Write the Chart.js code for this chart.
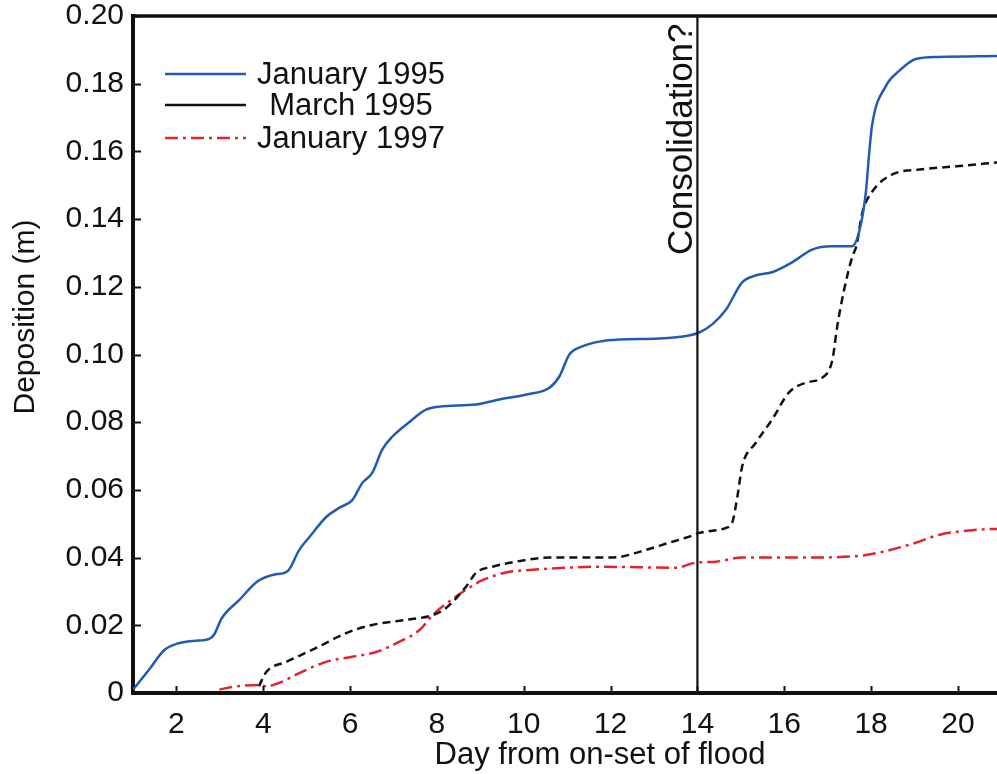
<!DOCTYPE html>
<html>
<head>
<meta charset="utf-8">
<script src="https://cdn.jsdelivr.net/npm/chart.js@4.4.1/dist/chart.umd.min.js"></script>
<style>
  html, body { margin: 0; padding: 0; background: #fff; overflow: hidden; }
  #wrap { width: 997px; height: 774px; }
</style>
</head>
<body>
<div id="wrap"><canvas id="myChart"></canvas></div>
<script>
// days since start of flood / deposition in metres
const jan95Days  = [1.0, 1.4, 1.72, 2.0, 2.4, 2.76, 2.88, 3.04, 3.45, 3.87, 4.26, 4.56, 4.83, 5.06, 5.45, 5.75, 6.05, 6.28, 6.51, 6.74, 6.97, 7.36, 7.75, 8.06, 8.9, 9.44, 10.06, 10.59, 10.82, 11.05, 11.35, 11.74, 12.2, 13.12, 13.8, 14.04, 14.34, 14.66, 15.03, 15.35, 15.72, 16.18, 16.64, 17.1, 17.56, 17.72, 17.88, 17.95, 18.02, 18.34, 18.64, 19.03, 19.56, 20.95];
const jan95Depth = [0.001, 0.0074, 0.0127, 0.0145, 0.0154, 0.016, 0.0175, 0.022, 0.0275, 0.033, 0.035, 0.036, 0.0423, 0.046, 0.052, 0.0547, 0.057, 0.062, 0.065, 0.0719, 0.0757, 0.080, 0.0837, 0.0846, 0.0852, 0.0867, 0.0882, 0.0902, 0.0935, 0.100, 0.1024, 0.1038, 0.1044, 0.1047, 0.1056, 0.1065, 0.1089, 0.1133, 0.1213, 0.1234, 0.1243, 0.1272, 0.131, 0.132, 0.132, 0.136, 0.148, 0.1586, 0.1675, 0.1793, 0.1837, 0.1873, 0.1879, 0.1882];

const mar95Days  = [3.9, 4.07, 4.53, 5.22, 5.91, 6.51, 7.29, 7.9, 8.21, 8.67, 8.9, 9.28, 9.82, 10.58, 11.74, 12.2, 12.66, 13.35, 13.81, 14.04, 14.66, 14.8, 14.92, 15.03, 15.35, 15.72, 16.11, 16.5, 16.88, 17.11, 17.22, 17.38, 17.57, 17.66, 17.8, 18.02, 18.49, 19.18, 19.96, 20.95];
const mar95Depth = [0.002, 0.0062, 0.0092, 0.0133, 0.0177, 0.0201, 0.0216, 0.023, 0.0251, 0.0314, 0.0355, 0.0373, 0.0388, 0.040, 0.040, 0.0402, 0.0417, 0.0444, 0.0462, 0.0473, 0.0488, 0.0503, 0.058, 0.0669, 0.074, 0.0808, 0.0888, 0.0917, 0.0932, 0.0985, 0.1083, 0.1192, 0.129, 0.132, 0.142, 0.148, 0.1532, 0.1547, 0.1556, 0.1568];

const jan97Days  = [2.99, 3.29, 3.91, 4.07, 4.37, 4.83, 5.45, 6.05, 6.6, 7.13, 7.6, 7.9, 8.36, 8.67, 9.06, 9.67, 10.2, 10.98, 11.74, 13.5, 13.96, 14.43, 15.03, 16.34, 17.72, 18.26, 19.03, 19.56, 20.41, 20.95];
const jan97Depth = [0.001, 0.0018, 0.0024, 0.002, 0.003, 0.0059, 0.0092, 0.0107, 0.0121, 0.0151, 0.0186, 0.023, 0.0278, 0.0305, 0.0334, 0.0358, 0.0364, 0.037, 0.0373, 0.037, 0.0385, 0.0388, 0.040, 0.040, 0.0405, 0.0417, 0.0444, 0.0467, 0.0482, 0.0485];

const seriesNames = ['January 1995', 'March 1995', 'January 1997'];
const xTicks = [2, 4, 6, 8, 10, 12, 14, 16, 18, 20];
const yTicks = [0, 0.02, 0.04, 0.06, 0.08, 0.10, 0.12, 0.14, 0.16, 0.18, 0.20];
const consolidationDay = 14;

const toPoints = (xs, ys) => xs.map((x, i) => ({ x: x, y: ys[i] }));

const FONT = '"Liberation Sans", Arial, Helvetica, sans-serif';
const BLUE = '#1f5cb2';
const RED = '#e2242b';
const INK = '#111';

// legend swatch dash per series (the figure shows March as a solid line in its key)
const legendDash = [[], [], [13, 5, 3, 5]];

const decorations = {
    id: 'decorations',
    afterDatasetsDraw(chart) {
        const ctx = chart.ctx;
        const area = chart.chartArea;
        const xs = chart.scales.x;
        const ys = chart.scales.y;
        ctx.save();

        // top frame line
        ctx.strokeStyle = INK;
        ctx.lineWidth = 3.5;
        ctx.beginPath();
        ctx.moveTo(area.left - 2, area.top);
        ctx.lineTo(chart.width, area.top);
        ctx.stroke();

        // inward tick marks
        ctx.lineWidth = 2;
        yTicks.forEach(v => {
            const py = Math.round(ys.getPixelForValue(v)) + 0.5;
            ctx.beginPath();
            ctx.moveTo(area.left, py);
            ctx.lineTo(area.left + 8, py);
            ctx.stroke();
        });
        xTicks.forEach(v => {
            const px = Math.round(xs.getPixelForValue(v)) + 0.5;
            ctx.beginPath();
            ctx.moveTo(px, area.bottom);
            ctx.lineTo(px, area.bottom - 7);
            ctx.stroke();
        });

        // consolidation marker
        const cx = xs.getPixelForValue(consolidationDay);
        ctx.lineWidth = 2.2;
        ctx.beginPath();
        ctx.moveTo(cx, area.top);
        ctx.lineTo(cx, area.bottom);
        ctx.stroke();

        ctx.fillStyle = INK;
        ctx.save();
        ctx.translate(cx - 5, 255);
        ctx.rotate(-Math.PI / 2);
        ctx.font = '35px ' + FONT;
        ctx.textAlign = 'left';
        ctx.textBaseline = 'alphabetic';
        ctx.fillText('Consolidation?', 0, 0);
        ctx.restore();

        // axis titles
        ctx.font = '31px ' + FONT;
        ctx.textAlign = 'center';
        ctx.textBaseline = 'alphabetic';
        ctx.fillText('Day from on-set of flood', 600, 764);

        ctx.save();
        ctx.translate(34, 317);
        ctx.rotate(-Math.PI / 2);
        ctx.font = '30px ' + FONT;
        ctx.fillText('Deposition (m)', 0, 0);
        ctx.restore();

        // legend
        const rows = [74, 105, 138];
        chart.data.datasets.forEach((ds, i) => {
            ctx.strokeStyle = ds.borderColor;
            ctx.lineWidth = 2.5;
            ctx.setLineDash(legendDash[i]);
            ctx.beginPath();
            ctx.moveTo(165, rows[i]);
            ctx.lineTo(246, rows[i]);
            ctx.stroke();
            ctx.setLineDash([]);
            ctx.fillStyle = INK;
            ctx.font = '31px ' + FONT;
            ctx.textAlign = 'center';
            ctx.textBaseline = 'middle';
            ctx.fillText(ds.label, 351, rows[i] + 1);
        });

        ctx.restore();
    }
};

const ctx = document.getElementById('myChart').getContext('2d');
new Chart(ctx, {
    type: 'line',
    data: {
        datasets: [
            {
                label: seriesNames[0],
                data: toPoints(jan95Days, jan95Depth),
                borderColor: BLUE,
                borderWidth: 2.5
            },
            {
                label: seriesNames[1],
                data: toPoints(mar95Days, mar95Depth),
                borderColor: INK,
                borderWidth: 2.5,
                borderDash: [8, 5]
            },
            {
                label: seriesNames[2],
                data: toPoints(jan97Days, jan97Depth),
                borderColor: RED,
                borderWidth: 2.5,
                borderDash: [13, 5, 3, 5]
            }
        ]
    },
    options: {
        responsive: true,
        maintainAspectRatio: false,
        animation: false,
        devicePixelRatio: 1,
        layout: { padding: { top: 16, right: 0, left: 0, bottom: 0 } },
        elements: {
            point: { radius: 0 },
            line: { cubicInterpolationMode: 'monotone', fill: false }
        },
        plugins: {
            legend: { display: false },
            tooltip: { enabled: false }
        },
        scales: {
            x: {
                type: 'linear',
                min: 1,
                max: 20.9,
                afterBuildTicks: s => { s.ticks = xTicks.map(v => ({ value: v })); },
                afterFit: s => { s.height = 81; s.paddingLeft = 0; s.paddingRight = 0; },
                grid: { display: false, drawTicks: false },
                border: { display: true, color: INK, width: 4 },
                ticks: {
                    autoSkip: false,
                    maxRotation: 0,
                    padding: 14,
                    color: INK,
                    font: { family: FONT, size: 30 }
                }
            },
            y: {
                min: 0,
                max: 0.2,
                afterBuildTicks: s => { s.ticks = yTicks.map(v => ({ value: v })); },
                afterFit: s => { s.width = 133; s.paddingTop = 0; s.paddingBottom = 0; },
                grid: { display: false, drawTicks: false },
                border: { display: true, color: INK, width: 4 },
                ticks: {
                    padding: 9,
                    color: INK,
                    font: { family: FONT, size: 30 },
                    callback: v => v === 0 ? '0' : v.toFixed(2)
                }
            }
        }
    },
    plugins: [decorations]
});
</script>
</body>
</html>
